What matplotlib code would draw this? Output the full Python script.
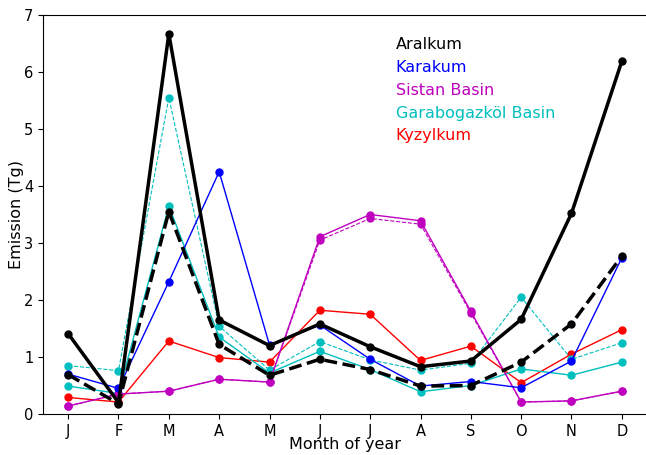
import matplotlib
matplotlib.use("Agg")
import matplotlib.pyplot as plt
import numpy as np

months = ["J", "F", "M", "A", "M", "J", "J", "A", "S", "O", "N", "D"]

aralkum = [1.41, 0.20, 6.67, 1.65, 1.20, 1.58, 1.18, 0.83, 0.93, 1.66, 3.52, 6.19]
aralkum_alt = [0.69, 0.18, 3.55, 1.22, 0.68, 0.96, 0.78, 0.49, 0.50, 0.91, 1.58, 2.77]
karakum = [0.70, 0.45, 2.32, 4.25, 1.21, 1.56, 0.96, 0.49, 0.57, 0.46, 0.93, 2.74]
sistan = [0.14, 0.35, 0.40, 0.61, 0.56, 3.11, 3.50, 3.39, 1.80, 0.21, 0.23, 0.40]
sistan_alt = [0.14, 0.35, 0.40, 0.61, 0.56, 3.05, 3.43, 3.33, 1.77, 0.21, 0.23, 0.40]
garabogazkol = [0.49, 0.36, 3.65, 1.35, 0.72, 1.10, 0.78, 0.39, 0.50, 0.79, 0.68, 0.91]
garabogazkol_alt = [0.85, 0.76, 5.55, 1.54, 0.77, 1.27, 0.95, 0.77, 0.89, 2.05, 0.96, 1.25]
kyzylkum = [0.29, 0.21, 1.28, 0.99, 0.91, 1.82, 1.75, 0.94, 1.19, 0.55, 1.05, 1.48]

names = ["Aralkum", "Karakum", "Sistan Basin", "Garabogazköl Basin", "Kyzylkum"]
colors = ["k", "b", "m", "c", "r"]

fig = plt.figure(figsize=(6.46, 4.55), dpi=100)
ax = fig.add_axes([43 / 646, 41 / 455, 604 / 646, 399 / 455])

x = np.arange(len(months))
ms = 5
ax.plot(x, kyzylkum, "-", color="r", lw=1, marker="o", ms=ms)
ax.plot(x, garabogazkol_alt, "--", color="c", lw=0.8, marker="o", ms=ms)
ax.plot(x, garabogazkol, "-", color="c", lw=1, marker="o", ms=ms)
ax.plot(x, sistan_alt, "--", color="m", lw=0.8, marker="o", ms=ms)
ax.plot(x, sistan, "-", color="m", lw=1, marker="o", ms=ms)
ax.plot(x, karakum, "-", color="b", lw=1, marker="o", ms=ms)
ax.plot(x, aralkum_alt, "--", color="k", lw=2.5, marker="o", ms=ms)
ax.plot(x, aralkum, "-", color="k", lw=2.5, marker="o", ms=ms)

ax.set_xlim(-0.5, 11.5)
ax.set_ylim(0, 7)
ax.set_xticks(x)
ax.set_xticklabels(months)
ax.set_yticks(range(0, 8))
ax.tick_params(axis="both", labelsize=10.5)
ax.set_xlabel("Month of year", fontsize=11.5, labelpad=-1)
ax.set_ylabel("Emission (Tg)", fontsize=11.5, labelpad=0)
ax.spines["right"].set_visible(False)

ys = [0.915, 0.857, 0.7995, 0.7426, 0.6867]
for name, c, yy in zip(names, colors, ys):
    ax.text(0.584, yy, name, color=c, fontsize=11.5, transform=ax.transAxes,
            va="baseline", ha="left")

fig.savefig("out.png", dpi=100)
